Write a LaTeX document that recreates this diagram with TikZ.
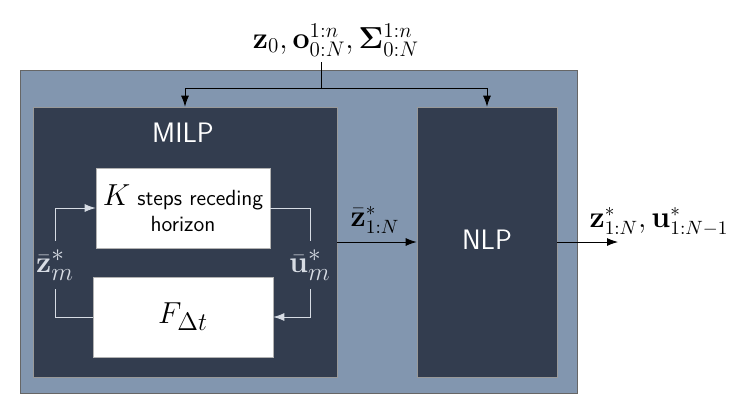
\documentclass[tikz,border=0pt]{standalone}
\usepackage{amsmath}
\usepackage{bm}
\usetikzlibrary{arrows.meta}
\definecolor{panelblue}{RGB}{130,150,175}
\definecolor{slatedark}{RGB}{51,61,79}
\definecolor{loopgray}{RGB}{215,220,228}
\tikzset{outer panel/.style={draw=black!60, fill=panelblue, rectangle, inner sep=0pt},
  solver box/.style={draw=black!40, fill=slatedark, rectangle, inner sep=0pt, minimum height=5.4cm},
  white box/.style={draw=black!30, fill=white, rectangle, inner sep=0pt, minimum height=1.6cm, align=center, font=\sffamily\fontsize{12.5}{15}\selectfont},
  solver title/.style={text=white, font=\sffamily\fontsize{16}{18}\selectfont},
  loop label/.style={text=loopgray, inner sep=5pt, font=\fontsize{19}{21}\selectfont},
  sig label/.style={font=\fontsize{16}{18}\selectfont},
  loop line/.style={draw=loopgray, line width=0.5pt},
  flow/.style={draw=black, line width=0.5pt, -{Latex[length=2.2mm,width=1.6mm]}},}

\begin{document}
\begin{tikzpicture}[x=0.02cm, y=-0.02cm]
\useasboundingbox (0,0) rectangle (734,400);
\node [outer panel, minimum width=11.14cm, minimum height=6.46cm] (panel) at (298.5, 231.5) {};
\node [solver box, minimum width=6.08cm] (milp) at (185, 242) {};
\node [solver box, minimum width=2.8cm] (nlp) at (487, 242) {};
\node [solver title] (milptitle) at (183, 133) {MILP};
\node [solver title] (nlptitle) at (487, 240) {NLP};
\node [white box, minimum width=3.48cm] (kbox) at (183, 208) {{\fontsize{17}{15}\selectfont$K$} steps receding\\horizon};
\node [white box, minimum width=3.6cm, font=\fontsize{19}{21}\selectfont] (fbox) at (183, 317) {$F_{\Delta t}$};
\node [loop label] (zm) at (55, 265) {$\bar{\mathbf{z}}_m^*$};
\node [loop label] (um) at (310, 265) {$\bar{\mathbf{u}}_m^*$};
\node [sig label, font=\fontsize{17}{19}\selectfont] (inputs) at (336, 40) {$\mathbf{z}_0, \mathbf{o}_{0:N}^{1:n}, \bm{\Sigma}_{0:N}^{1:n}$};
\node [sig label] (zbar) at (375, 220) {$\bar{\mathbf{z}}_{1:N}^*$};
\node [sig label] (outputs) at (659, 222) {$\mathbf{z}_{1:N}^*, \mathbf{u}_{1:N-1}^*$};
\coordinate (intop) at (321, 62);
\coordinate (insplit) at (321, 88);
\coordinate (outend) at (618, 242);
% inputs into both solvers
\draw (intop) -- (insplit);
\draw [flow] (insplit) -| (milp.north);
\draw [flow] (insplit) -| (nlp.north);
% receding horizon loop
\draw [loop line] (fbox.west) -| (zm.south);
\draw [loop line, -{Latex[length=2.2mm,width=1.6mm]}] (zm.north) |- (kbox.west);
\draw [loop line] (kbox.east) -| (um.north);
\draw [loop line, -{Latex[length=2.2mm,width=1.6mm]}] (um.south) |- (fbox.east);
% MILP -> NLP -> output
\draw [flow] (milp.east) -- (nlp.west);
\draw [flow] (nlp.east) -- (outend);
\end{tikzpicture}
\end{document}
